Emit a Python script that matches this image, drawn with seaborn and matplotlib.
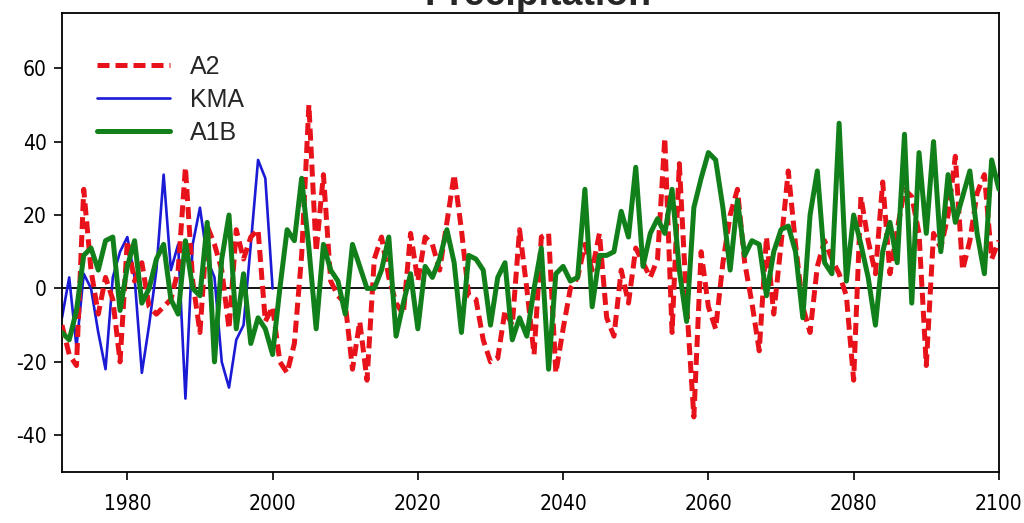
import numpy as np
import pandas as pd
import matplotlib
matplotlib.use("Agg")
import matplotlib.pyplot as plt
import seaborn as sns

# ---- data ----
years_a = list(range(1971, 2101))
a2 = [-10, -18, -21, 27, 5, -7, 3, -3, -20, 13,
      2, 7, -5, -7, -5, -3, 5, 33, 2, -12,
      17, 12, 5, -11, 16, 8, 14, 16, -9, -5,
      -20, -23, -15, 9, 50, 10, 31, 2, -2, -4,
      -22, -9, -25, 8, 14, 3, -4, -7, 15, 2,
      14, 12, 5, 18, 31, 16, -2, -3, -14, -20,
      -19, -6, -10, 16, 0, -18, 14, 15, -23, -11,
      0, 3, 12, 5, 15, -8, -13, 5, -4, 11,
      7, 3, 8, 41, -12, 34, -4, -35, 10, -5,
      -11, 7, 20, 27, 7, -4, -17, 14, -7, 12,
      32, 12, -5, -12, 6, 13, 8, 4, -2, -25,
      25, 13, 4, 29, 4, 16, 27, 25, 15, -21,
      15, 11, 20, 36, 5, 13, 26, 31, 8, 13]
a1b = [-12, -14, -6, 9, 11, 5, 13, 14, -6, 6,
       13, -4, 0, 8, 12, -3, -7, 13, 0, -2,
       18, -20, 8, 20, -11, 4, -15, -8, -11, -18,
       0, 16, 13, 30, 11, -11, 12, 5, 2, -7,
       12, 6, 0, 0, 5, 14, -13, -4, 4, -11,
       6, 3, 8, 16, 7, -12, 9, 8, 5, -10,
       3, 7, -14, -8, -13, 0, 11, -22, 4, 6,
       2, 3, 27, -5, 9, 9, 10, 21, 14, 33,
       6, 15, 19, 15, 27, 5, -9, 22, 30, 37,
       35, 22, 5, 24, 9, 13, 12, -2, 10, 16,
       17, 10, -8, 20, 32, 7, 4, 45, 2, 20,
       12, 3, -10, 10, 18, 7, 42, -4, 37, 15,
       40, 10, 31, 18, 25, 32, 15, 4, 35, 27]
years_k = list(range(1971, 2001))
kma = [-8, 3, -16, 4, 0, -12, -22, 3, 10, 14,
       3, -23, -10, 5, 31, 5, 12, -30, 12, 22,
       8, 3, -20, -27, -14, -10, 12, 35, 30, 0]

series_labels = ["A2", "KMA", "A1B"]
x_ticks = [1980, 2000, 2020, 2040, 2060, 2080, 2100]
y_ticks = [-40, -20, 0, 20, 40, 60]
title = "Precipitation"

df_a2 = pd.DataFrame({"year": years_a, "value": a2})
df_a1b = pd.DataFrame({"year": years_a, "value": a1b})
df_kma = pd.DataFrame({"year": years_k, "value": kma})

sns.set_style("white")
plt.rcParams["font.family"] = ["Liberation Sans", "DejaVu Sans"]
plt.rcParams["axes.unicode_minus"] = False

fig = plt.figure(figsize=(10.24, 5.23), dpi=100)
ax = fig.add_axes([0.0605, 0.0975, 0.915, 0.8775])

ax.axhline(0, color="black", lw=1.3, zorder=1)
sns.lineplot(data=df_a2, x="year", y="value", ax=ax, color="#e8121b", lw=3.6,
             linestyle=(0, (2.4, 1.2)), label=series_labels[0], zorder=3)
sns.lineplot(data=df_kma, x="year", y="value", ax=ax, color="#1b1bd6", lw=1.9,
             label=series_labels[1], zorder=2)
sns.lineplot(data=df_a1b, x="year", y="value", ax=ax, color="#12801a", lw=3.6,
             label=series_labels[2], zorder=4)

ax.set_xlim(1971, 2100)
ax.set_ylim(-50, 75)
ax.set_xticks(x_ticks)
ax.set_yticks(y_ticks)
ax.set_xlabel("")
ax.set_ylabel("")
for s in ax.spines.values():
    s.set_color("black")
    s.set_linewidth(1.3)
ax.tick_params(axis="both", which="both", direction="out", length=6, width=1.2,
               colors="black", labelsize=15, bottom=True, left=True,
               top=False, right=False)
ax.tick_params(axis="x", pad=10)
ax.tick_params(axis="y", pad=5)
for lab in ax.get_xticklabels() + ax.get_yticklabels():
    lab.set_family(["DejaVu Sans"])
    lab.set_stretch("condensed")

leg = ax.legend(loc="upper left", bbox_to_anchor=(0.027, 0.93), frameon=False,
                fontsize=18, handlelength=2.9, handletextpad=0.8,
                labelspacing=0.36, borderaxespad=0.0)

fig.text(0.525, 0.99, title, ha="center", va="baseline", fontsize=27,
         fontweight="bold")

fig.savefig("out.png", dpi=100)
